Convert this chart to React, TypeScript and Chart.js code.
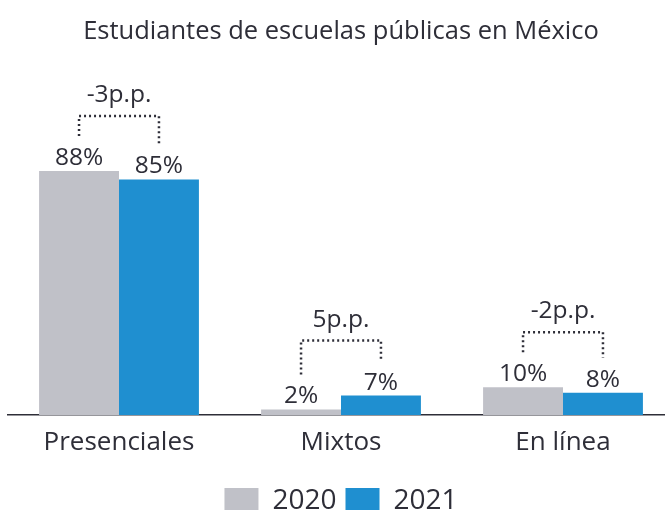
import React, { useEffect, useRef } from "react";
import { Chart, registerables } from "chart.js";

Chart.register(...registerables);

const categories = ["Presenciales", "Mixtos", "En línea"];
const series2020 = [88, 2, 10];
const series2021 = [85, 7, 8];
const seriesLabels = ["2020", "2021"];
const titleText = "Estudiantes de escuelas públicas en México";

const FONT = "'Open Sans'";
const TEXT = "#2e2e38";
const GREY = "#c0c1c8";
const BLUE = "#1f8fd0";

const annotPlugin = {
  id: "annot",
  afterDatasetsDraw(chart: any) {
    const ctx = chart.ctx;
    const m0 = chart.getDatasetMeta(0);
    const m1 = chart.getDatasetMeta(1);
    ctx.save();
    ctx.fillStyle = TEXT;
    ctx.font = `24.5px ${FONT}`;
    ctx.textAlign = "center";
    ctx.textBaseline = "alphabetic";
    const sets = [series2020, series2021];
    [m0, m1].forEach((m: any, di: number) => {
      m.data.forEach((bar: any, i: number) => {
        ctx.fillText(`${sets[di][i]}%`, bar.x, bar.y - 6);
      });
    });
    categories.forEach((_, i) => {
      const a = m0.data[i];
      const b = m1.data[i];
      const hy = Math.min(a.y, b.y) - 55;
      ctx.save();
      ctx.strokeStyle = "#2e2e38";
      ctx.lineWidth = 2.5;
      ctx.setLineDash([2, 3]);
      ctx.beginPath();
      ctx.moveTo(a.x, a.y - 35);
      ctx.lineTo(a.x, hy);
      ctx.lineTo(b.x, hy);
      ctx.lineTo(b.x, b.y - 35);
      ctx.stroke();
      ctx.restore();
      const d = series2021[i] - series2020[i];
      ctx.textBaseline = "middle";
      ctx.fillText(`${d}p.p.`, (a.x + b.x) / 2, hy - 21);
      ctx.textBaseline = "alphabetic";
    });
    ctx.restore();
  },
};

export default function App() {
  const ref = useRef<HTMLCanvasElement>(null);
  useEffect(() => {
    if (!ref.current) return;
    const chart = new Chart(ref.current, {
      type: "bar",
      data: {
        labels: categories,
        datasets: [
          { label: seriesLabels[0], data: series2020, backgroundColor: GREY },
          { label: seriesLabels[1], data: series2021, backgroundColor: BLUE },
        ],
      },
      options: {
        responsive: false,
        animation: false,
        layout: { padding: { left: 8, right: 6, top: 0, bottom: 0 } },
        datasets: { bar: { categoryPercentage: 0.72, barPercentage: 1 } },
        scales: {
          x: {
            grid: { display: false },
            border: { display: true, color: "#2e2e38", width: 1.5 },
            ticks: { color: TEXT, font: { family: FONT, size: 26 }, padding: 4 },
            afterFit: (scale: any) => {
              scale.height = 63;
            },
          },
          y: { display: false, min: 0, max: 100 },
        },
        plugins: {
          title: {
            display: true,
            text: titleText,
            color: TEXT,
            font: { family: FONT, size: 25.5, weight: "normal" },
            padding: { top: 16, bottom: 91.2 },
          },
          legend: {
            position: "bottom",
            labels: {
              color: TEXT,
              font: { family: FONT, size: 28 },
              boxWidth: 34,
              boxHeight: 26,
              padding: 9,
              useBorderRadius: false,
            },
          },
          tooltip: { enabled: false },
        },
      },
      plugins: [annotPlugin],
    });
    return () => chart.destroy();
  }, []);
  return (
    <div style={{ position: "absolute", left: 0, top: 0, width: 665, height: 510, overflow: "hidden", background: "#fff" }}>
      <canvas ref={ref} width={680} height={525} style={{ display: "block" }} />
    </div>
  );
}
